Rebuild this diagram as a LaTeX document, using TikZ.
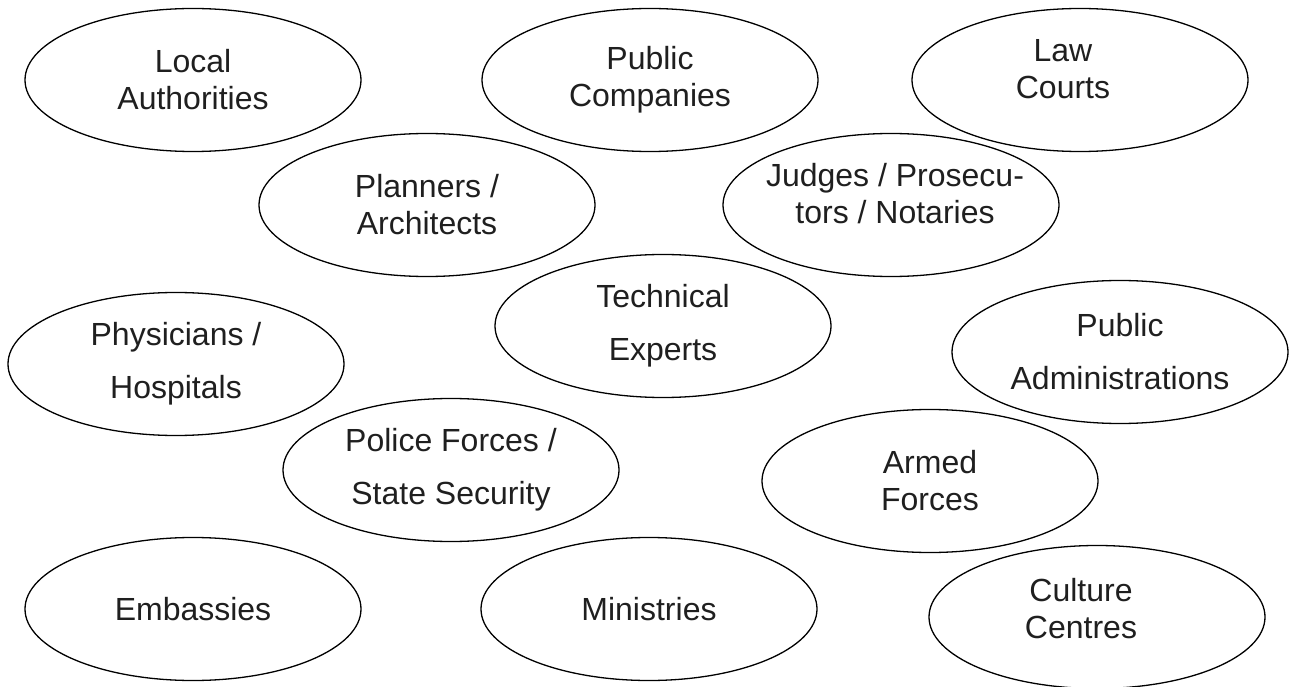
\documentclass[tikz,border=0pt]{standalone}
\usepackage{fontspec}
\setmainfont{Liberation Sans}
\usepackage{tikz}
\usetikzlibrary{shapes.geometric}
\newcommand{\movetext}[3]{\raisebox{#2}[\height][\depth]{\hspace*{#1}\begin{tabular}{@{}c@{}}#3\end{tabular}\hspace*{-#1}}}

\begin{document}
\begin{tikzpicture}[x=1pt,y=-1pt,line width=1.3pt,
                    party/.style={draw,ellipse,minimum width=336pt,minimum height=143pt,
                                  inner xsep=-12pt,inner ysep=0pt,align=center,
                                  font=\fontsize{32}{37}\selectfont,text=black!88}]
\useasboundingbox (0,0) rectangle (1291,687);
\node[party] (locauth) at (193,80) {Local\\Authorities};
\node[party] (pubcomp) at (650,80) {Public\\Companies};
\node[party] (lawcourts) at (1080,80) {\movetext{-17pt}{7pt}{Law\\Courts}};
\node[party] (planners) at (427,205) {Planners /\\Architects};
\node[party] (judges) at (891,205) {\movetext{4pt}{7pt}{Judges / Prosecu-\\tors / Notaries}};
\node[party] (techexp) at (663,326) {Technical\\[16pt]Experts};
\node[party] (physic) at (176,364) {Physicians /\\[16pt]Hospitals};
\node[party] (pubadmin) at (1120,352) {Public\\[16pt]Administrations};
\node[party] (police) at (451,470) {Police Forces /\\[16pt]State Security};
\node[party] (armed) at (930,481) {Armed\\Forces};
\node[party] (embass) at (193,609) {Embassies};
\node[party] (minist) at (649,609) {Ministries};
\node[party] (culture) at (1097,617) {\movetext{-16pt}{4pt}{Culture\\Centres}};
\end{tikzpicture}
\end{document}
